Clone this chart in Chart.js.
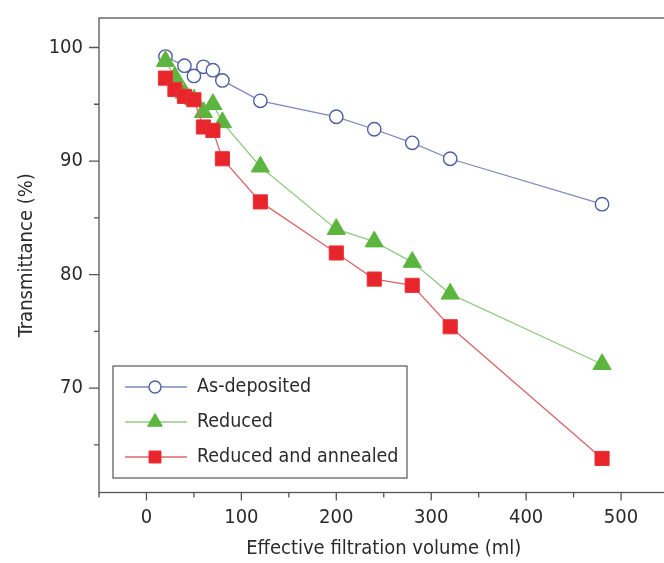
<!DOCTYPE html>
<html><head><meta charset="utf-8">
<script src="https://cdn.jsdelivr.net/npm/chart.js@4.4.1/dist/chart.umd.min.js"></script>
<style>
html,body{margin:0;padding:0;background:#fff;overflow:hidden;width:664px;height:563px}
#wrap{width:680px;height:563px}
</style>
</head><body><div id="wrap"><canvas id="c" width="680" height="563"></canvas></div>
<script>
const FONT = "'DejaVu Sans Condensed','Liberation Sans Narrow',sans-serif";
const FSIZE = 20;

const seriesNames = ['As-deposited', 'Reduced', 'Reduced and annealed'];

const asDepositedX = [20, 40, 50, 60, 70, 80, 120, 200, 240, 280, 320, 480];
const asDepositedY = [99.2, 98.4, 97.5, 98.3, 98.0, 97.1, 95.3, 93.9, 92.8, 91.6, 90.2, 86.2];

const reducedX = [20, 30, 40, 50, 60, 70, 80, 120, 200, 240, 280, 320, 480];
const reducedY = [98.8, 97.4, 96.0, 95.4, 94.3, 95.0, 93.4, 89.5, 84.0, 82.9, 81.1, 78.3, 72.1];

const annealedX = [20, 30, 40, 50, 60, 70, 80, 120, 200, 240, 280, 320, 480];
const annealedY = [97.3, 96.3, 95.7, 95.4, 93.0, 92.7, 90.2, 86.4, 81.9, 79.6, 79.05, 75.4, 63.8];

const xTickLabels = ['0', '100', '200', '300', '400', '500'];
const yTickLabels = ['70', '80', '90', '100'];

const xTitle = 'Effective filtration volume (ml)';
const yTitle = 'Transmittance (%)';

function pts(xs, ys) { return xs.map((x, i) => ({ x: x, y: ys[i] })); }

const datasets = [
  {
    label: seriesNames[0], data: pts(asDepositedX, asDepositedY), showLine: true, order: 3,
    borderColor: '#7d8bbd', borderWidth: 1.3,
    pointStyle: 'circle', pointRadius: 6.7, pointBorderWidth: 1.4,
    pointBorderColor: '#4f5f9f', pointBackgroundColor: '#ffffff'
  },
  {
    label: seriesNames[1], data: pts(reducedX, reducedY), showLine: true, order: 2,
    borderColor: '#94c985', borderWidth: 1.3,
    pointStyle: 'triangle', pointRadius: 10.5, pointBorderWidth: 1,
    pointBorderColor: '#5cb53e', pointBackgroundColor: '#5cb53e'
  },
  {
    label: seriesNames[2], data: pts(annealedX, annealedY), showLine: true, order: 1,
    borderColor: '#d8676b', borderWidth: 1.3,
    pointStyle: 'rect', pointRadius: 10, pointBorderWidth: 1,
    pointBorderColor: '#e8353a', pointBackgroundColor: '#e8252a'
  }
];

const framePlugin = {
  id: 'frame',
  beforeDatasetsDraw(chart) {
    const ctx = chart.ctx, a = chart.chartArea;
    const xs = chart.scales.x, ys = chart.scales.y;
    ctx.save();
    ctx.strokeStyle = '#555';
    ctx.lineWidth = 1.3;
    ctx.strokeRect(a.left, a.top, a.right - a.left, a.bottom - a.top);
    ctx.beginPath();
    ys.ticks.forEach(t => {
      const y = ys.getPixelForValue(t.value);
      const len = (t.value % 10 === 0) ? 10 : 5;
      ctx.moveTo(a.left - len, y); ctx.lineTo(a.left, y);
    });
    xs.ticks.forEach(t => {
      const x = xs.getPixelForValue(t.value);
      const len = (t.value % 100 === 0) ? 8 : 5;
      ctx.moveTo(x, a.bottom); ctx.lineTo(x, a.bottom + len);
    });
    ctx.stroke();
    ctx.restore();
  }
};

const legendPlugin = {
  id: 'boxLegend',
  afterDraw(chart) {
    const ctx = chart.ctx;
    const box = { l: 113, t: 366, r: 407, b: 478 };
    ctx.save();
    ctx.fillStyle = '#fff';
    ctx.fillRect(box.l, box.t, box.r - box.l, box.b - box.t);
    ctx.strokeStyle = '#555';
    ctx.lineWidth = 1.2;
    ctx.strokeRect(box.l, box.t, box.r - box.l, box.b - box.t);
    const rows = [387, 422, 457];
    chart.data.datasets.forEach((ds, i) => {
      const y = rows[i];
      ctx.strokeStyle = ds.borderColor;
      ctx.lineWidth = ds.borderWidth;
      ctx.beginPath(); ctx.moveTo(125, y); ctx.lineTo(187, y); ctx.stroke();
      ctx.fillStyle = ds.pointBackgroundColor;
      ctx.strokeStyle = ds.pointBorderColor;
      ctx.lineWidth = ds.pointBorderWidth;
      Chart.helpers.drawPoint(ctx, {
        pointStyle: ds.pointStyle,
        radius: ds.pointStyle === 'circle' ? 6 : 8.5,
        borderWidth: ds.pointBorderWidth, rotation: 0
      }, 155, y);
      ctx.fillStyle = '#2b2b2b';
      ctx.font = '19.5px ' + FONT;
      ctx.textBaseline = 'middle';
      ctx.textAlign = 'left';
      ctx.fillText(ds.label, 197, y);
    });
    ctx.restore();
  }
};

new Chart(document.getElementById('c'), {
  type: 'scatter',
  data: { datasets: datasets },
  plugins: [framePlugin, legendPlugin],
  options: {
    responsive: false, animation: false, devicePixelRatio: 1,
    layout: { padding: { left: 0, right: 8, top: 17, bottom: 0 } },
    plugins: { legend: { display: false }, tooltip: { enabled: false } },
    scales: {
      x: {
        type: 'linear', min: -50, max: 550,
        ticks: {
          stepSize: 50, color: '#2b2b2b', padding: 5,
          font: { family: FONT, size: FSIZE },
          maxRotation: 0, autoSkip: false,
          callback: v => xTickLabels.includes(String(v)) ? String(v) : ''
        },
        grid: { display: false, drawTicks: true, tickLength: 8 },
        border: { display: false },
        title: { display: true, text: xTitle, color: '#2b2b2b', font: { family: FONT, size: FSIZE }, padding: { top: 0, bottom: 2 } },
        afterFit: s => { s.height = 70.5; }
      },
      y: {
        type: 'linear', min: 60.8, max: 102.6,
        ticks: {
          stepSize: 5, includeBounds: false, color: '#2b2b2b', padding: 6,
          font: { family: FONT, size: FSIZE }, autoSkip: false,
          callback: v => yTickLabels.includes(String(v)) ? String(v) : ''
        },
        grid: { display: false, drawTicks: true, tickLength: 10 },
        border: { display: false },
        title: { display: true, text: yTitle, color: '#2b2b2b', font: { family: FONT, size: FSIZE }, padding: { top: 15, bottom: 0 } },
        afterFit: s => { s.width = 99; }
      }
    }
  }
});
</script>
</body></html>
